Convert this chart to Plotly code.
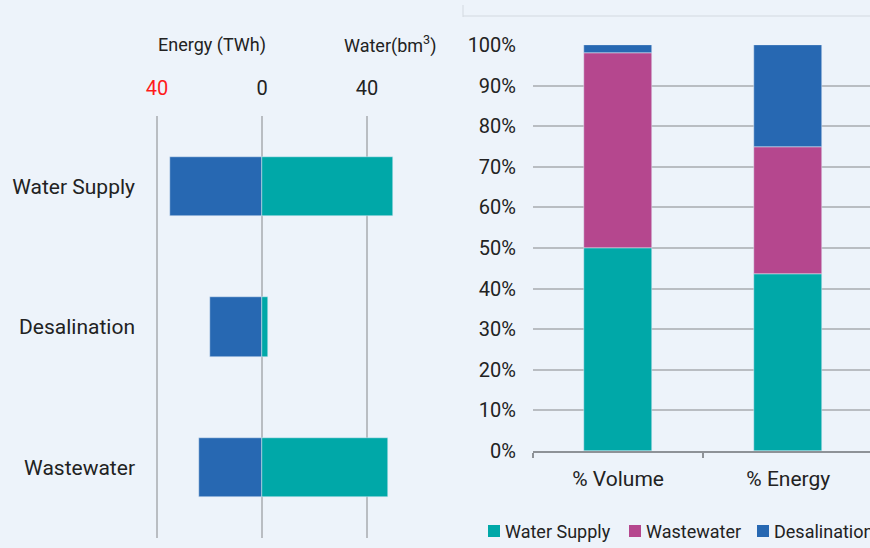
"""Water supply / desalination / wastewater: volume vs energy."""

import plotly.graph_objects as go

# left panel: absolute values
sectors = ["Water Supply", "Desalination", "Wastewater"]
energy_twh = [35, 20, 24]
water_bm3 = [50, 2.3, 48]

# right panel: shares
share_cats = ["% Volume", "% Energy"]
share_names = ["Water Supply", "Wastewater", "Desalination"]
share_water_supply = [50, 43.5]
share_wastewater = [48, 31.5]
share_desalination = [2, 25]

x_ticks = [-40, 0, 40]
x_tick_text = ['<span style="color:#FF1A1A">40</span>', "0", "40"]
y_ticks = list(range(0, 101, 10))
y_tick_text = [f"{v}%" for v in y_ticks]

TEAL = "#00A8A8"
BLUE = "#2768B2"
MAGENTA = "#B5478E"
GRID = "#B9BDC2"
BG = "#EDF3FA"
FONT = "Roboto"
share_colors = [TEAL, MAGENTA, BLUE]

W, H = 870, 548


def px_x(p):
    return p / W


def px_y(p):
    return 1 - p / H


fig = go.Figure()

# left: energy to the left (negative), water to the right
fig.add_trace(go.Bar(
    y=sectors, x=[-v for v in energy_twh], orientation="h",
    marker_color=BLUE, width=0.42, showlegend=False,
    xaxis="x", yaxis="y",
))
fig.add_trace(go.Bar(
    y=sectors, x=water_bm3, orientation="h",
    marker_color=TEAL, width=0.42, showlegend=False,
    xaxis="x", yaxis="y",
))

# right: stacked 100% bars
for name, vals, col in zip(
    share_names,
    [share_water_supply, share_wastewater, share_desalination],
    share_colors,
):
    fig.add_trace(go.Bar(
        x=share_cats, y=vals, name=name, marker_color=col, width=0.4,
        showlegend=False, xaxis="x2", yaxis="y2",
    ))

# legend drawn by hand so the spacing follows the original
legend_x = [488, 629, 757]
legend_shapes = []
legend_notes = []
for name, col, lx in zip(share_names, share_colors, legend_x):
    legend_shapes.append({
        "type": "rect", "xref": "paper", "yref": "paper",
        "x0": px_x(lx), "x1": px_x(lx + 12),
        "y0": px_y(537), "y1": px_y(525),
        "fillcolor": col, "line": {"width": 0},
    })
    legend_notes.append({
        "text": name, "x": px_x(lx + 15), "y": px_y(531),
        "xref": "paper", "yref": "paper", "showarrow": False,
        "xanchor": "left", "yanchor": "middle",
        "font": {"size": 18},
    })

# left axis scale: 0 at px 262, 40 at px 367
scale = (367 - 262) / 40
left_lo, left_hi = 150, 440
fig.update_layout(
    width=W, height=H,
    margin={"l": 0, "r": 0, "t": 0, "b": 0, "autoexpand": False},
    paper_bgcolor=BG, plot_bgcolor=BG,
    font={"family": FONT, "size": 20, "color": "#222222"},
    barmode="relative",
    bargap=0,
    showlegend=False,
    xaxis={
        "domain": [px_x(left_lo), px_x(left_hi)],
        "range": [-(262 - left_lo) / scale, (left_hi - 262) / scale],
        "side": "top",
        "tickvals": x_ticks, "ticktext": x_tick_text,
        "showgrid": True, "gridcolor": GRID, "gridwidth": 2,
        "zeroline": True, "zerolinecolor": GRID, "zerolinewidth": 2,
        "showline": False, "ticks": "", "ticklabelstandoff": 16,
        "anchor": "y",
    },
    yaxis={
        "domain": [px_y(538), px_y(116)],
        "categoryorder": "array", "categoryarray": sectors,
        "autorange": "reversed",
        "showgrid": False, "zeroline": False, "showline": False,
        "ticks": "", "ticklabelstandoff": 14,
        "tickfont": {"size": 21},
        "anchor": "x",
    },
    xaxis2={
        "domain": [px_x(533), 1.0],
        "range": [-0.5, 1.48],
        "showline": True, "linecolor": "#8E9297", "linewidth": 2,
        "ticks": "outside", "tickson": "boundaries", "ticklen": 5,
        "tickcolor": "#8E9297", "tickwidth": 2,
        "showgrid": False, "ticklabelstandoff": 8,
        "tickfont": {"size": 21},
        "anchor": "y2",
    },
    yaxis2={
        "domain": [px_y(451), px_y(45)],
        "range": [0, 100],
        "tickvals": y_ticks, "ticktext": y_tick_text,
        "showgrid": True, "gridcolor": GRID, "gridwidth": 2,
        "zeroline": False, "showline": False, "ticks": "",
        "ticklabelstandoff": 16,
        "anchor": "x2",
    },
    annotations=[
        {"text": "Energy (TWh)", "x": px_x(212), "y": px_y(45),
         "xref": "paper", "yref": "paper", "showarrow": False,
         "xanchor": "center", "yanchor": "middle",
         "font": {"size": 18}},
        {"text": "Water(bm<sup>3</sup>)", "x": px_x(390), "y": px_y(45),
         "xref": "paper", "yref": "paper", "showarrow": False,
         "xanchor": "center", "yanchor": "middle",
         "font": {"size": 18}},
    ] + legend_notes,
    shapes=[
        {"type": "line", "xref": "paper", "yref": "paper",
         "x0": px_x(463), "x1": 1, "y0": px_y(16), "y1": px_y(16),
         "line": {"color": "#D3D9E0", "width": 1}},
        {"type": "line", "xref": "paper", "yref": "paper",
         "x0": px_x(463), "x1": px_x(463), "y0": px_y(5), "y1": px_y(17),
         "line": {"color": "#D3D9E0", "width": 1}},
    ] + legend_shapes,
)

fig.write_html(
    "out.html",
    config={"displayModeBar": False},
    post_script="document.body.style.margin='0';"
                "document.body.style.overflow='hidden';",
)
